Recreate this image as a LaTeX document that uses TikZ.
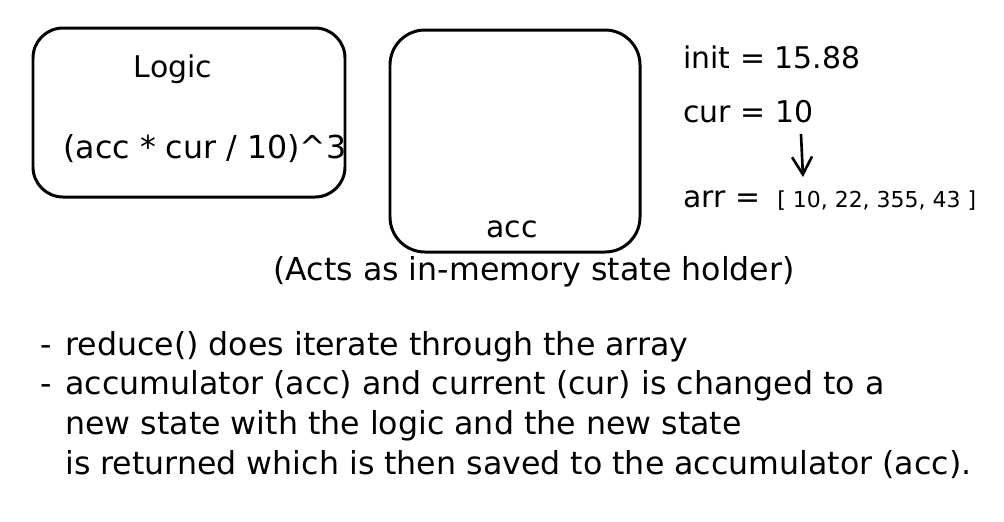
\documentclass[tikz,border=0pt]{standalone}
\usepackage{fontspec}
\setmainfont{DejaVu Sans}
\usepackage{tikz}
\usetikzlibrary{arrows.meta, positioning}

\begin{document}
\begin{tikzpicture}[x=0.2mm, y=-0.2mm,
    box/.style={draw, line width=1.7pt, rounded corners=#1},
    txt/.style={font=\fontsize{18}{21}\selectfont, inner sep=0pt, anchor=base west},
    valtxt/.style={font=\fontsize{17}{20}\selectfont, inner sep=0pt, anchor=base west},
    arrtxt/.style={font=\fontsize{12.5}{15}\selectfont, inner sep=0pt, anchor=base west}]
  \useasboundingbox (0,0) rectangle (1004,521);

  % the two boxes
  \node[box=6mm, minimum width=62.4mm, minimum height=33.8mm] (logicbox) at (189,112.5) {};
  \node[box=7mm, minimum width=50mm, minimum height=44.4mm] (accbox) at (515,141) {};

  \node[valtxt, anchor=base] (logic) at (173,77) {Logic};
  \node[txt, anchor=base] (formula) at (205,158) {(acc * cur / 10)\^{}3};
  \node[valtxt, anchor=base] (acc) at (512,237) {acc};
  \node[txt, anchor=base] (holder) at (534,280) {(Acts as in-memory state holder)};

  % values on the right
  \node[valtxt] (init) at (683,68) {init = 15.88};
  \node[valtxt] (cur) at (683,122) {cur = 10};
  \node[valtxt] (arr) at (683,207) {arr =};
  \node[arrtxt] (arrvals) at (777,207) {[ 10, 22, 355, 43 ]};
  \coordinate (from) at (801,134);
  \coordinate (to) at (803,177);
  \draw[-{Straight Barb[length=3.5mm, width=4mm]}, line width=1.5pt] (from) -- (to);

  % notes
  \node[txt] (dash1) at (40,355) {-};
  \node[txt] (note1) at (65,355) {reduce() does iterate through the array};
  \node[txt] (dash2) at (40,394) {-};
  \node[txt] (note2) at (65,394) {accumulator (acc) and current (cur) is changed to a};
  \node[txt] (note3) at (65,434) {new state with the logic and the new state};
  \node[txt] (note4) at (65,474) {is returned which is then saved to the accumulator (acc).};
\end{tikzpicture}
\end{document}
